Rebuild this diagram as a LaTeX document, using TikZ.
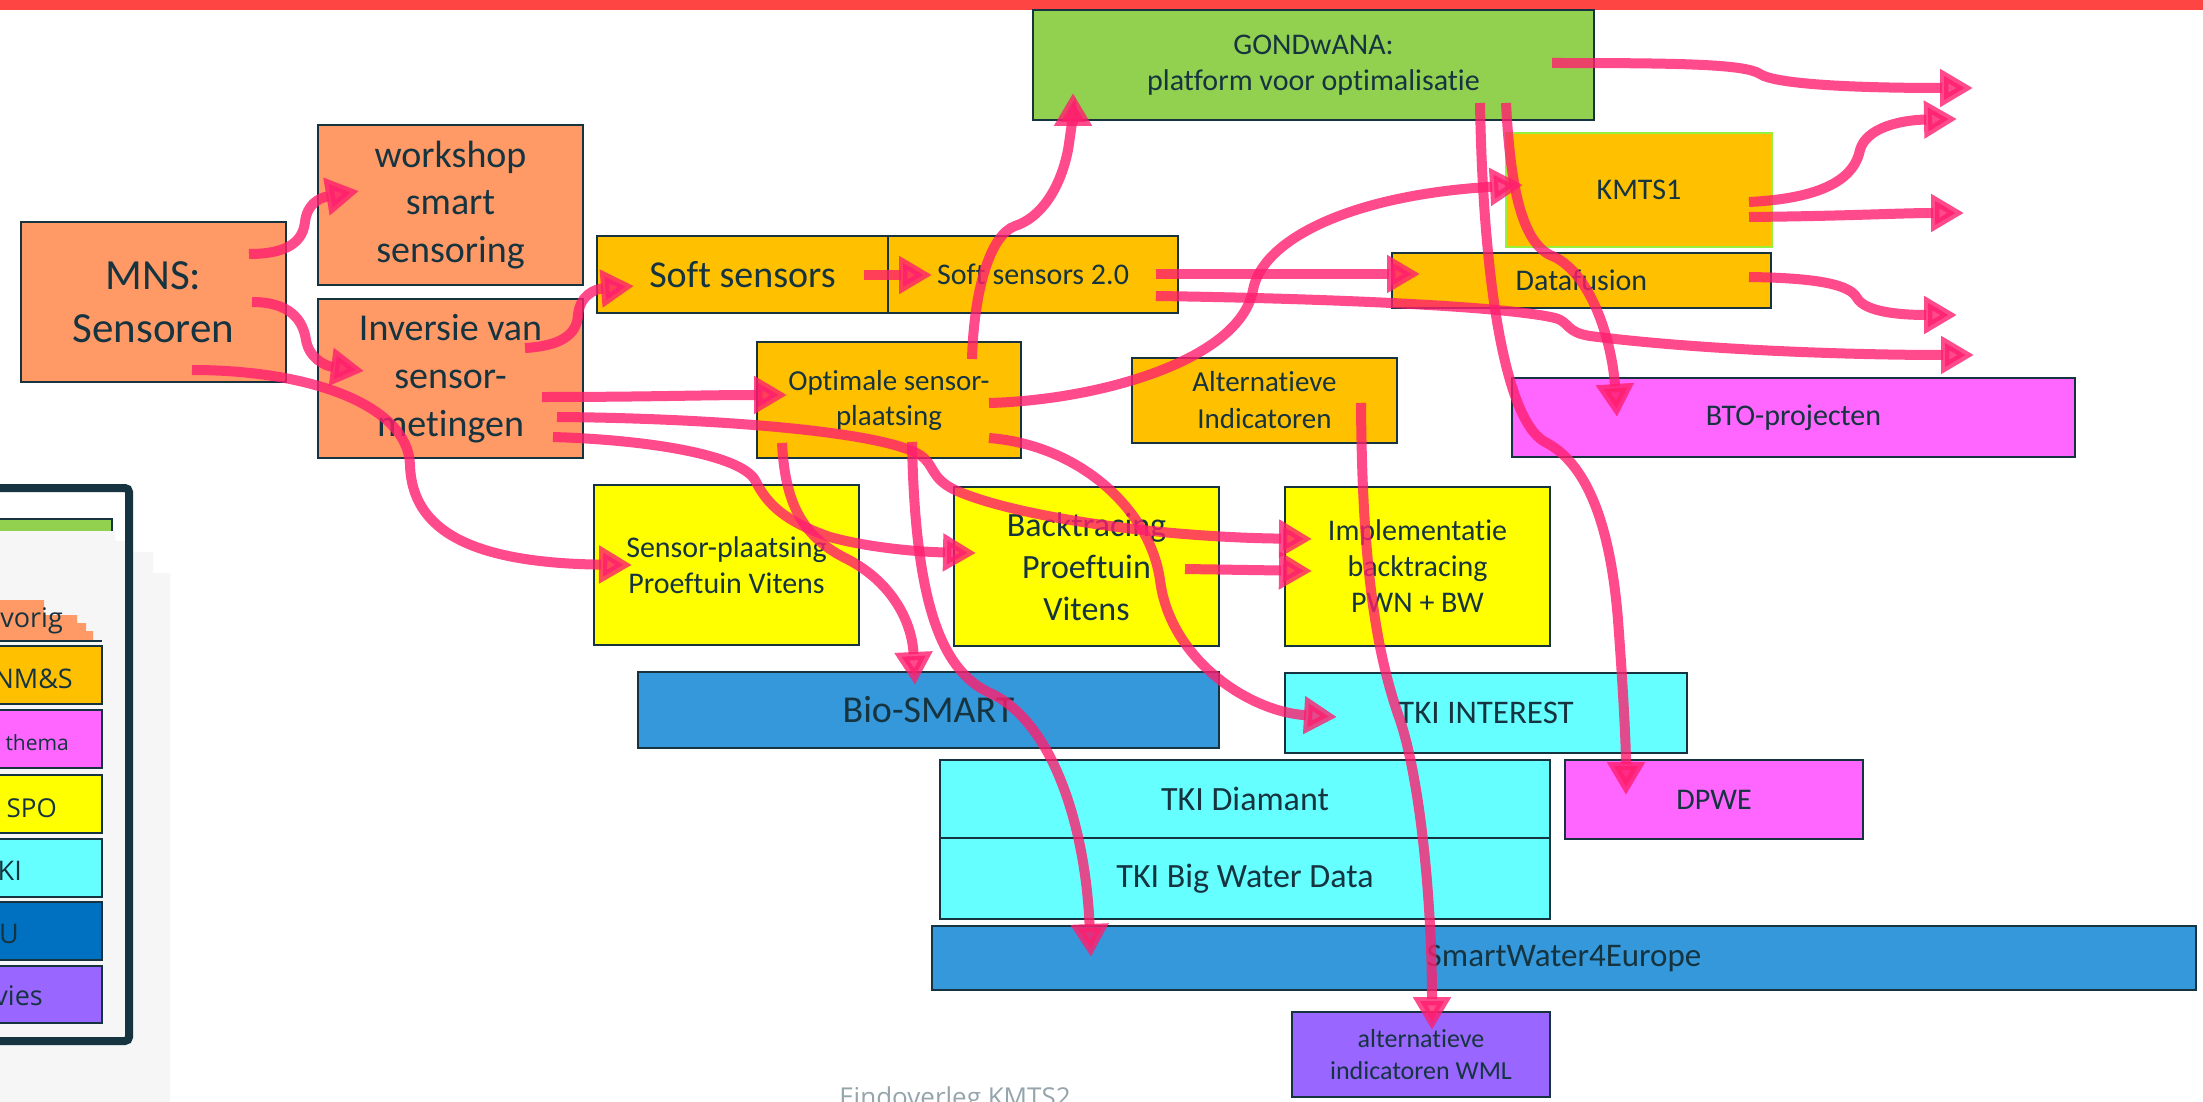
\documentclass[tikz,border=0pt]{standalone}
\usepackage{fontspec}
\setmainfont[Ligatures={NoCommon,NoRequired,NoContextual}]{Carlito}
\newfontfamily\legfont{Open Sans}
\usetikzlibrary{arrows.meta}
\definecolor{salmon}{RGB}{255,153,102}
\definecolor{gold}{RGB}{255,192,0}
\definecolor{lgreen}{RGB}{146,208,80}
\definecolor{yel}{RGB}{255,255,0}
\definecolor{cyanb}{RGB}{102,255,255}
\definecolor{blueb}{RGB}{52,152,219}
\definecolor{eublue}{RGB}{0,112,192}
\definecolor{magb}{RGB}{255,102,255}
\definecolor{purb}{RGB}{153,102,255}
\definecolor{bordc}{RGB}{22,52,64}
\definecolor{txtc}{RGB}{22,52,64}
\definecolor{connc}{RGB}{255,30,110}
\definecolor{topred}{RGB}{255,68,68}
\definecolor{kgreen}{RGB}{150,240,60}
\definecolor{footc}{RGB}{150,165,172}
\definecolor{shadec}{RGB}{246,246,246}
\begin{document}
\begin{tikzpicture}[x=1pt,y=-1pt,
 box/.style={draw=bordc,line width=2.5pt,inner sep=0pt,align=center,text=txtc},
 conline/.style={draw=connc,line width=10pt,opacity=0.8,-{Triangle[length=33pt,width=36pt]}},
 leg/.style={anchor=base east,inner sep=0pt,text=txtc},
 legbar/.style={draw=bordc,line width=2pt}]
\useasboundingbox (0,0) rectangle (2203,1102);
\clip (0,0) rectangle (2203,1102);
\fill[white] (0,0) rectangle (2203,1102);
\fill[topred] (0,0) rectangle (2203,10);

% legend
\draw[legbar,fill=lgreen] (-10,519) rectangle (112,560);
\fill[shadec] (0,531) -- (115,531) -- (115,541) -- (133,541) -- (133,552) -- (153,552) -- (153,573) -- (170,573) -- (170,1102) -- (0,1102) -- cycle;
\fill[salmon] (-5,600) -- (44,600) -- (44,615) -- (77,615) -- (77,623) -- (86,623) -- (86,631) -- (93,631) -- (93,641) -- (-5,641) -- cycle;
\draw[bordc,line width=2pt] (-5,641) -- (102,641);
\draw[legbar,fill=gold] (-10,646) rectangle (102,704);
\draw[legbar,fill=magb] (-10,710) rectangle (102,768);
\draw[legbar,fill=yel] (-10,775) rectangle (102,833);
\draw[legbar,fill=cyanb] (-10,839) rectangle (102,897);
\draw[legbar,fill=eublue] (-10,902) rectangle (102,960);
\draw[legbar,fill=purb] (-10,966) rectangle (102,1023);
\draw[bordc,line width=8pt,rounded corners=4pt] (-30,488) rectangle (129,1041);
\node[leg,font=\legfont\fontsize{27}{30}\selectfont] (lvorig) at (63,627) {vorig};
\node[leg,font=\legfont\fontsize{27}{30}\selectfont] (lnms) at (73,688) {NM\&S};
\node[leg,font=\legfont\fontsize{21}{24}\selectfont] (lthema) at (69,750) {thema};
\node[leg,font=\legfont\fontsize{26}{30}\selectfont] (lspo) at (57,817) {SPO};
\node[leg,font=\legfont\fontsize{27}{30}\selectfont] (ltki) at (22,880) {TKI};
\node[leg,font=\legfont\fontsize{27}{30}\selectfont] (leu) at (19,943) {EU};
\node[leg,font=\legfont\fontsize{27}{30}\selectfont] (ladv) at (43,1005) {Advies};

\node[anchor=base,inner sep=0pt,font=\legfont\fontsize{26}{28}\selectfont,text=footc] (foot) at (955,1106) {Eindoverleg KMTS2};

% boxes
\node[box,fill=salmon,minimum width=265pt,minimum height=160pt,font=\fontsize{43}{53}\selectfont] (mns) at (153.5,302) {MNS:\\Sensoren};
\node[box,fill=salmon,minimum width=265pt,minimum height=160pt,font=\fontsize{38}{47.5}\selectfont] (workshop) at (450.5,205) {workshop\\smart\\sensoring};
\node[box,fill=salmon,minimum width=265pt,minimum height=159pt,font=\fontsize{38}{48}\selectfont] (inversie) at (450.5,378.5) {Inversie van\\sensor-\\metingen};
\node[box,fill=gold,minimum width=291pt,minimum height=77pt,font=\fontsize{38}{45}\selectfont] (soft) at (742.5,274.5) {Soft sensors};
\node[box,fill=gold,minimum width=290pt,minimum height=77pt,font=\fontsize{30}{36}\selectfont] (soft2) at (1033,274.5) {Soft sensors 2.0};
\node[box,fill=gold,minimum width=264pt,minimum height=116pt,font=\fontsize{29}{35}\selectfont] (optimale) at (889,400) {Optimale sensor-\\plaatsing};
\node[box,fill=gold,minimum width=265pt,minimum height=85pt,font=\fontsize{29}{37}\selectfont] (altern) at (1264.5,400.5) {Alternatieve\\Indicatoren};
\node[box,fill=lgreen,minimum width=561pt,minimum height=110pt,font=\fontsize{30}{36}\selectfont] (gond) at (1313.5,65) {GONDwANA:\\platform voor optimalisatie};
\node[box,draw=kgreen,line width=2pt,fill=gold,minimum width=266pt,minimum height=114pt,font=\fontsize{30}{36}\selectfont] (kmts1) at (1639,190) {KMTS1};
\node[box,fill=gold,minimum width=379pt,minimum height=55pt,font=\fontsize{30}{36}\selectfont] (datafusion) at (1581.5,280.5) {Datafusion};
\node[box,fill=magb,minimum width=563pt,minimum height=79pt,font=\fontsize{30}{36}\selectfont] (bto) at (1793.5,417.5) {BTO-projecten};
\node[box,fill=yel,minimum width=265pt,minimum height=160pt,font=\fontsize{30}{36}\selectfont] (sensorpl) at (726.5,565) {Sensor-plaatsing\\Proeftuin Vitens};
\node[box,fill=yel,minimum width=265pt,minimum height=159pt,font=\fontsize{34}{42}\selectfont] (backtr) at (1086.5,566.5) {Backtracing\\Proeftuin\\Vitens};
\node[box,fill=yel,minimum width=265pt,minimum height=159pt,font=\fontsize{30}{36}\selectfont] (implem) at (1417.5,566.5) {Implementatie\\backtracing\\PWN + BW};
\node[box,fill=blueb,minimum width=581pt,minimum height=76pt,font=\fontsize{38}{45}\selectfont] (biosmart) at (928.5,710) {Bio-SMART};
\node[box,fill=cyanb,minimum width=402pt,minimum height=80pt,font=\fontsize{33}{40}\selectfont] (tkiint) at (1486,713) {TKI INTEREST};
\node[box,fill=cyanb,minimum width=610pt,minimum height=78pt,font=\fontsize{34}{40}\selectfont] (tkidiam) at (1245,799) {TKI Diamant};
\node[box,fill=cyanb,minimum width=610pt,minimum height=81pt,font=\fontsize{34}{40}\selectfont] (tkibig) at (1245,878.5) {TKI Big Water Data};
\node[box,fill=blueb,minimum width=1264pt,minimum height=64pt,font=\fontsize{33}{40}\selectfont] (sw4e) at (1564,958) {SmartWater4Europe};
\node[box,fill=magb,minimum width=298pt,minimum height=79pt,font=\fontsize{30}{36}\selectfont] (dpwe) at (1714,799.5) {DPWE};
\node[box,fill=purb,minimum width=258pt,minimum height=85pt,font=\fontsize{26}{32}\selectfont] (altwml) at (1421,1054.5) {alternatieve\\indicatoren WML};

% free ends
\coordinate (e1) at (1973,88);
\coordinate (e2) at (1957,119);
\coordinate (e3) at (1964,213);
\coordinate (e4) at (1957,315);
\coordinate (e5) at (1974,355);

% connectors
\draw[conline] ([shift={(95.5,-48)}]mns.center) .. controls (290,254) and (303,240) .. (305,222) .. controls (307,205) and (318,198) .. ([shift={(-91.5,-14)}]workshop.center);
\draw[conline] ([shift={(98.5,0)}]mns.center) .. controls (290,302) and (303,320) .. (306,340) .. controls (309,358) and (325,366) .. ([shift={(-86.5,-7.5)}]inversie.center);
\draw[conline] ([shift={(38.5,68)}]mns.center) .. controls (310,370) and (408,405) .. (410,465) .. controls (412,530) and (470,563) .. ([shift={(-94.5,0)}]sensorpl.center);
\draw[conline] ([shift={(74.5,-30.5)}]inversie.center) .. controls (560,346) and (577,335) .. (578,315) .. controls (580,295) and (595,289) .. ([shift={(-108.5,11.5)}]soft.center);
\draw[conline] ([shift={(91.5,18.5)}]inversie.center) .. controls (650,397) and (700,395) .. ([shift={(-102,-5)}]optimale.center);
\draw[conline] ([shift={(106.5,38.5)}]inversie.center) .. controls (700,418) and (880,430) .. (920,455) .. controls (935,465) and (930,478) .. (955,490) .. controls (1010,515) and (1150,537) .. ([shift={(-105.5,-27.5)}]implem.center);
\draw[conline] ([shift={(102.5,58.5)}]inversie.center) .. controls (650,440) and (740,455) .. (755,480) .. controls (765,500) and (780,520) .. (830,537) .. controls (870,548) and (920,552) .. ([shift={(-110.5,-13.5)}]backtr.center);
\draw[conline] ([shift={(121.5,0.5)}]soft.center) -- ([shift={(-101,0.5)}]soft2.center);
\draw[conline] ([shift={(123,-0.5)}]soft2.center) -- ([shift={(-161.5,-6.5)}]datafusion.center);
\draw[conline] ([shift={(123,21.5)}]soft2.center) .. controls (1300,298) and (1500,305) .. (1555,318) .. controls (1570,322) and (1565,332) .. (1590,336) .. controls (1700,350) and (1850,355) .. (e5);
\draw[conline] ([shift={(83,-41)}]optimale.center) .. controls (974,290) and (990,235) .. (1015,226) .. controls (1040,218) and (1060,190) .. (1068,150) .. controls (1072,125) and (1073,110) .. ([shift={(-240.5,28)}]gond.center);
\draw[conline] ([shift={(100,3)}]optimale.center) .. controls (1100,400) and (1240,360) .. (1253,290) .. controls (1262,240) and (1350,195) .. ([shift={(-116,-5)}]kmts1.center);
\draw[conline] ([shift={(-107,43)}]optimale.center) .. controls (785,500) and (800,535) .. (845,558) .. controls (890,580) and (912,620) .. ([shift={(-13.5,-25)}]biosmart.center);
\draw[conline] ([shift={(23,42)}]optimale.center) .. controls (915,600) and (940,670) .. (990,693) .. controls (1050,720) and (1085,820) .. ([shift={(-473,-1)}]sw4e.center);
\draw[conline] ([shift={(100,38)}]optimale.center) .. controls (1080,445) and (1150,510) .. (1160,580) .. controls (1170,660) and (1250,712) .. ([shift={(-149,4)}]tkiint.center);
\draw[conline] ([shift={(96.5,2.5)}]altern.center) .. controls (1362,560) and (1375,650) .. (1400,720) .. controls (1420,780) and (1432,900) .. ([shift={(11,-24.5)}]altwml.center);
\draw[conline] ([shift={(238.5,-2)}]gond.center) .. controls (1680,63) and (1745,64) .. (1760,74) .. controls (1775,84) and (1850,88) .. (e1);
\draw[conline] ([shift={(166.5,38)}]gond.center) .. controls (1483,280) and (1505,420) .. (1545,442) .. controls (1585,462) and (1610,520) .. (1618,620) .. controls (1624,700) and (1626,750) .. ([shift={(-88,-4.5)}]dpwe.center);
\draw[conline] ([shift={(192.5,38)}]gond.center) .. controls (1510,180) and (1520,240) .. (1550,255) .. controls (1590,270) and (1612,340) .. ([shift={(-176.5,-0.5)}]bto.center);
\draw[conline] ([shift={(110,12)}]kmts1.center) .. controls (1830,198) and (1855,175) .. (1860,150) .. controls (1866,128) and (1900,120) .. (e2);
\draw[conline] ([shift={(110,27)}]kmts1.center) .. controls (1850,216) and (1900,213) .. (e3);
\draw[conline] ([shift={(167.5,-3.5)}]datafusion.center) .. controls (1820,278) and (1850,285) .. (1857,298) .. controls (1865,312) and (1900,315) .. (e4);
\draw[conline] ([shift={(98.5,2.5)}]backtr.center) -- ([shift={(-105.5,4.5)}]implem.center);
\end{tikzpicture}
\end{document}
